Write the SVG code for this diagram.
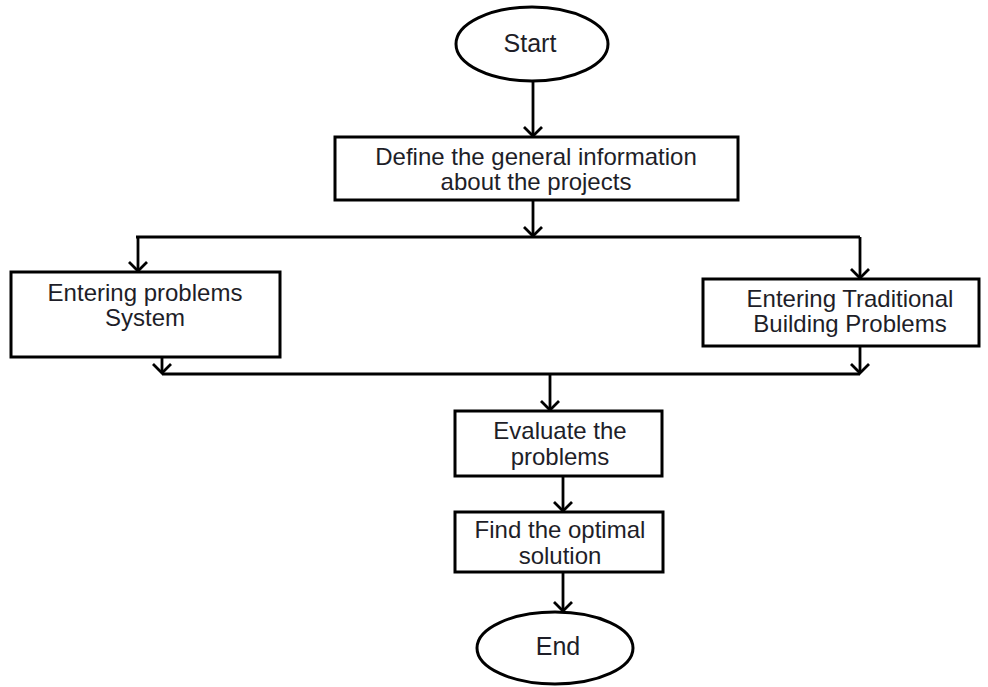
<svg xmlns="http://www.w3.org/2000/svg" width="988" height="687" viewBox="0 0 988 687">
<defs>
<marker id="arr" markerWidth="22" markerHeight="22" refX="11" refY="11" orient="auto" markerUnits="userSpaceOnUse">
<path d="M2,2 L11,11 L2,20" fill="none" stroke="#000" stroke-width="2.8"/>
</marker>
<style>
.shape{fill:#fff;stroke:#000;stroke-width:3}
.edge{fill:none;stroke:#000;stroke-width:2.8}
text{font-family:"Liberation Sans",Arial,sans-serif;font-size:24px;fill:#1e1e28;text-anchor:middle}
.big{font-size:25px}
</style>
</defs>
<rect width="988" height="687" fill="#fff"/>
<g id="connectors">
<path class="edge" d="M533,82 V136" marker-end="url(#arr)"/>
<path class="edge" d="M533,200 V236" marker-end="url(#arr)"/>
<path class="edge" d="M136,237 H860"/>
<path class="edge" d="M138,237 V271" marker-end="url(#arr)"/>
<path class="edge" d="M860,237 V278" marker-end="url(#arr)"/>
<path class="edge" d="M162,357 V373" marker-end="url(#arr)"/>
<path class="edge" d="M860,346 V373" marker-end="url(#arr)"/>
<path class="edge" d="M162,374 H860"/>
<path class="edge" d="M550,374 V410" marker-end="url(#arr)"/>
<path class="edge" d="M563,476 V511" marker-end="url(#arr)"/>
<path class="edge" d="M563,572 V611" marker-end="url(#arr)"/>
</g>
<g id="start">
<ellipse class="shape" cx="532" cy="44" rx="76" ry="37"/>
<text class="big" x="530" y="52">Start</text>
</g>
<g id="define">
<rect class="shape" x="335" y="137" width="403" height="63"/>
<text x="536" y="165">Define the general information</text>
<text x="536" y="190">about the projects</text>
</g>
<g id="entering-system">
<rect class="shape" x="11" y="272" width="269" height="85"/>
<text x="145" y="301">Entering problems</text>
<text x="145" y="326">System</text>
</g>
<g id="entering-traditional">
<rect class="shape" x="703" y="279" width="276" height="67"/>
<text x="850" y="307">Entering Traditional</text>
<text x="850" y="332">Building Problems</text>
</g>
<g id="evaluate">
<rect class="shape" x="455" y="411" width="207" height="65"/>
<text x="560" y="439">Evaluate the</text>
<text x="560" y="465">problems</text>
</g>
<g id="find">
<rect class="shape" x="455" y="512" width="208" height="60"/>
<text x="560" y="538">Find the optimal</text>
<text x="560" y="564">solution</text>
</g>
<g id="end">
<ellipse class="shape" cx="555" cy="648" rx="78" ry="36"/>
<text class="big" x="558" y="655">End</text>
</g>
</svg>
